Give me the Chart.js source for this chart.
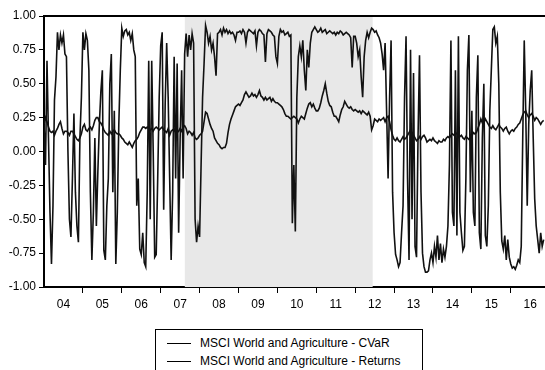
<!DOCTYPE html>
<html>
<head>
<meta charset="utf-8">
<script src="https://cdn.jsdelivr.net/npm/chart.js@4"></script>
<style>
  body { margin: 0; background: #fff; font-family: "Liberation Sans", Arial, sans-serif; }
  #wrap { position: relative; width: 545px; height: 370px; overflow: hidden; }
  #legend {
    position: absolute; left: 155px; top: 329px; width: 268px; height: 44px;
    border: 1px solid #000; box-sizing: border-box; font-size: 12px; color: #000;
  }
  .row { position: absolute; left: 11px; height: 14px; line-height: 14px; white-space: nowrap; }
  .row i { display: inline-block; width: 24px; height: 0; border-top: 1px solid #000; vertical-align: middle; margin-right: 9px; }
</style>
</head>
<body>
<div id="wrap">
  <canvas id="chart" width="545" height="320"></canvas>
  <div id="legend">
    <div class="row" style="top:6px"><i></i>MSCI World and Agriculture - CVaR</div>
    <div class="row" style="top:24px"><i></i>MSCI World and Agriculture - Returns</div>
  </div>
</div>
<script>
// biweekly observations, 26 per year, starting Jan 2004
const startYear = 2004;
const perYear = 26;
const yearLabels = ['04', '05', '06', '07', '08', '09', '10', '11', '12', '13', '14', '15', '16'];
const yTicks = [-1, -0.75, -0.5, -0.25, 0, 0.25, 0.5, 0.75, 1];
const shadeFrom = 2007.62;
const shadeTo = 2012.45;

const cvarValues = [
  // 2004
  0.20, -0.10, 0.67, 0.10, -0.45, -0.83, -0.40, 0.38, 0.55, 0.88, 0.75, 0.86, 0.80, 0.86, 0.72, 0.70, 0.00, -0.50, -0.63, -0.20, 0.28, -0.30, -0.55, -0.67, 0.10, 0.40,
  // 2005
  0.88, 0.75, 0.87, 0.82, 0.60, -0.30, -0.80, -0.45, 0.10, -0.55, -0.15, 0.20, 0.44, 0.60, -0.73, -0.80, -0.40, -0.20, 0.50, 0.72, -0.30, 0.30, -0.83, -0.45, 0.20, 0.60,
  // 2006
  0.91, 0.85, 0.89, 0.90, 0.86, 0.88, 0.82, 0.87, 0.75, 0.70, -0.40, -0.20, -0.72, -0.76, -0.60, -0.82, -0.85, -0.30, 0.67, -0.50, 0.67, 0.00, -0.78, -0.76, -0.20, 0.40,
  // 2007
  0.78, 0.88, -0.43, 0.35, 0.80, 0.40, -0.20, -0.80, -0.30, 0.70, -0.20, 0.65, -0.60, 0.10, 0.60, -0.20, 0.72, 0.87, 0.70, 0.86, 0.75, 0.87, 0.80, -0.50, -0.67, -0.55,
  // 2008
  -0.63, -0.10, 0.40, 0.65, 0.93, 0.88, 0.80, 0.85, 0.75, 0.80, 0.70, 0.56, 0.87, 0.88, 0.90, 0.86, 0.91, 0.88, 0.90, 0.87, 0.89, 0.87, 0.88, 0.86, 0.82, 0.88,
  // 2009
  0.88, 0.89, 0.87, 0.90, 0.88, 0.80, 0.88, 0.90, 0.89, 0.88, 0.87, 0.89, 0.78, 0.88, 0.90, 0.89, 0.87, 0.86, 0.66, 0.87, 0.90, 0.89, 0.88, 0.86, 0.85, 0.70,
  // 2010
  0.65, 0.85, 0.90, 0.88, 0.89, 0.86, 0.87, 0.88, 0.85, 0.86, -0.53, -0.10, -0.59, 0.40, 0.70, 0.78, 0.70, 0.82, 0.60, 0.45, 0.75, 0.62, 0.80, 0.88, 0.90, 0.92,
  // 2011
  0.90, 0.88, 0.89, 0.91, 0.88, 0.89, 0.90, 0.87, 0.88, 0.89, 0.88, 0.87, 0.88, 0.86, 0.88, 0.87, 0.89, 0.88, 0.86, 0.87, 0.88, 0.87, 0.86, 0.84, 0.62, 0.85,
  // 2012
  0.85, 0.80, 0.70, 0.75, 0.55, 0.40, 0.70, 0.82, 0.88, 0.84, 0.88, 0.91, 0.90, 0.88, 0.89, 0.86, 0.84, 0.80, 0.72, 0.60, 0.80, 0.30, -0.20, 0.40, 0.82, -0.30,
  // 2013
  -0.60, -0.76, -0.80, -0.85, -0.82, -0.60, -0.40, 0.40, 0.85, -0.20, -0.80, 0.75, -0.50, 0.58, -0.70, -0.78, 0.10, 0.71, -0.30, -0.75, -0.85, -0.89, -0.89, -0.88, -0.80, -0.75,
  // 2014
  -0.82, -0.70, -0.78, -0.62, -0.80, -0.68, -0.82, -0.72, -0.78, -0.70, -0.55, -0.10, 0.82, -0.45, -0.55, 0.60, -0.62, 0.85, -0.45, -0.60, -0.73, -0.70, -0.20, 0.60, 0.86, -0.30,
  // 2015
  0.30, -0.45, -0.55, 0.40, 0.71, -0.60, -0.72, 0.10, 0.50, -0.62, -0.70, -0.40, 0.30, 0.60, 0.90, 0.92, 0.80, 0.85, 0.50, -0.30, -0.66, -0.72, -0.62, -0.80, -0.65, -0.78,
  // 2016
  -0.83, -0.86, -0.85, -0.87, -0.84, -0.80, -0.82, -0.70, 0.10, 0.82, 0.30, -0.40, 0.20, 0.45, 0.60, 0.10, -0.35, -0.55, -0.65, -0.75, -0.60, -0.70, -0.65
];

const returnValues = [
  // 2004
  0.20, 0.25, 0.22, 0.18, 0.15, 0.14, 0.15, 0.12, 0.15, 0.17, 0.20, 0.22, 0.17, 0.13, 0.15, 0.15, 0.14, 0.12, 0.15, 0.15, 0.13, 0.11, 0.09, 0.08, 0.10, 0.13,
  // 2005
  0.18, 0.20, 0.16, 0.15, 0.17, 0.18, 0.16, 0.19, 0.23, 0.25, 0.25, 0.22, 0.21, 0.19, 0.16, 0.14, 0.13, 0.12, 0.15, 0.13, 0.15, 0.16, 0.14, 0.13, 0.13, 0.12,
  // 2006
  0.10, 0.09, 0.07, 0.06, 0.05, 0.07, 0.05, 0.03, 0.06, 0.08, 0.09, 0.11, 0.14, 0.16, 0.18, 0.18, 0.17, 0.18, 0.17, 0.16, 0.17, 0.15, 0.17, 0.18, 0.17, 0.16,
  // 2007
  0.17, 0.18, 0.16, 0.15, 0.14, 0.17, 0.12, 0.15, 0.16, 0.15, 0.18, 0.14, 0.15, 0.17, 0.15, 0.18, 0.19, 0.17, 0.13, 0.15, 0.14, 0.12, 0.14, 0.10, 0.09, 0.10,
  // 2008
  0.12, 0.13, 0.15, 0.22, 0.29, 0.28, 0.24, 0.20, 0.17, 0.15, 0.10, 0.08, 0.06, 0.05, 0.03, 0.02, 0.03, 0.03, 0.06, 0.14, 0.20, 0.24, 0.27, 0.30, 0.33, 0.34,
  // 2009
  0.35, 0.34, 0.36, 0.38, 0.42, 0.44, 0.42, 0.40, 0.41, 0.43, 0.41, 0.42, 0.40, 0.42, 0.45, 0.41, 0.40, 0.38, 0.40, 0.38, 0.39, 0.40, 0.37, 0.39, 0.37, 0.36,
  // 2010
  0.36, 0.35, 0.34, 0.33, 0.31, 0.28, 0.26, 0.26, 0.25, 0.24, 0.25, 0.26, 0.25, 0.24, 0.21, 0.24, 0.26, 0.25, 0.24, 0.28, 0.32, 0.35, 0.36, 0.33, 0.35, 0.32,
  // 2011
  0.30, 0.30, 0.32, 0.36, 0.41, 0.45, 0.50, 0.43, 0.37, 0.34, 0.33, 0.29, 0.26, 0.26, 0.24, 0.22, 0.27, 0.31, 0.33, 0.37, 0.35, 0.33, 0.32, 0.33, 0.31, 0.30,
  // 2012
  0.31, 0.30, 0.29, 0.30, 0.28, 0.30, 0.29, 0.28, 0.27, 0.29, 0.26, 0.16, 0.19, 0.24, 0.23, 0.22, 0.24, 0.23, 0.24, 0.25, 0.22, 0.25, 0.26, 0.22, 0.16, 0.12,
  // 2013
  0.09, 0.08, 0.10, 0.08, 0.07, 0.09, 0.11, 0.09, 0.10, 0.12, 0.14, 0.16, 0.14, 0.12, 0.10, 0.08, 0.09, 0.11, 0.09, 0.11, 0.12, 0.10, 0.07, 0.08, 0.09, 0.08,
  // 2014
  0.10, 0.08, 0.07, 0.06, 0.08, 0.07, 0.07, 0.09, 0.08, 0.10, 0.11, 0.10, 0.12, 0.13, 0.12, 0.14, 0.13, 0.12, 0.11, 0.12, 0.10, 0.09, 0.11, 0.10, 0.09, 0.10,
  // 2015
  0.11, 0.14, 0.13, 0.14, 0.17, 0.20, 0.24, 0.21, 0.21, 0.24, 0.22, 0.20, 0.18, 0.17, 0.19, 0.17, 0.16, 0.18, 0.20, 0.18, 0.17, 0.15, 0.17, 0.18, 0.15, 0.13,
  // 2016
  0.15, 0.16, 0.15, 0.17, 0.18, 0.20, 0.21, 0.24, 0.27, 0.29, 0.30, 0.27, 0.25, 0.27, 0.28, 0.26, 0.23, 0.25, 0.24, 0.22, 0.20, 0.22, 0.23
];

const toPoints = (vals) => vals.map((v, i) => ({ x: startYear + i / perYear, y: v }));
const xMax = 2016.88;

const shade = {
  id: 'shade',
  beforeDatasetsDraw(chart) {
    const { ctx, chartArea, scales } = chart;
    const x0 = scales.x.getPixelForValue(shadeFrom);
    const x1 = scales.x.getPixelForValue(shadeTo);
    ctx.save();
    ctx.fillStyle = '#e8e8e8';
    ctx.fillRect(x0, chartArea.top, x1 - x0, chartArea.bottom - chartArea.top);
    ctx.restore();
  },
  afterDraw(chart) {
    // top frame line
    const { ctx, chartArea } = chart;
    ctx.save();
    ctx.strokeStyle = '#000';
    ctx.lineWidth = 2;
    ctx.beginPath();
    ctx.moveTo(chartArea.left - 1, chartArea.top);
    ctx.lineTo(chartArea.right, chartArea.top);
    ctx.stroke();
    ctx.restore();
  }
};

const font = { family: '"Liberation Sans", Arial, sans-serif', size: 12 };

new Chart(document.getElementById('chart'), {
  type: 'line',
  data: {
    datasets: [
      { label: 'MSCI World and Agriculture - CVaR', data: toPoints(cvarValues), borderColor: '#111', borderWidth: 1.6 },
      { label: 'MSCI World and Agriculture - Returns', data: toPoints(returnValues), borderColor: '#111', borderWidth: 1.6 }
    ]
  },
  options: {
    responsive: false,
    animation: false,
    layout: { padding: { top: 16, right: 0, left: 0, bottom: 0 } },
    elements: { point: { radius: 0 }, line: { tension: 0 } },
    plugins: { legend: { display: false }, tooltip: { enabled: false } },
    scales: {
      x: {
        type: 'linear',
        min: startYear,
        max: xMax,
        afterBuildTicks: (s) => {
          const t = [];
          yearLabels.forEach((lab, i) => {
            t.push({ value: startYear + i + 0.5 });
            if (i > 0) t.push({ value: startYear + i });
          });
          s.ticks = t.sort((a, b) => a.value - b.value);
        },
        afterFit: (s) => { s.height = 33; },
        grid: {
          drawOnChartArea: false,
          tickLength: 6,
          tickWidth: 1,
          tickColor: (c) => (c.tick && c.tick.value % 1 === 0) ? '#000' : 'rgba(0,0,0,0)'
        },
        border: { display: true, color: '#000', width: 2 },
        ticks: {
          autoSkip: false,
          maxRotation: 0,
          color: '#000',
          font: font,
          padding: 4,
          callback: (v) => (v % 1 === 0.5) ? yearLabels[Math.floor(v) - startYear] : ''
        }
      },
      y: {
        min: -1,
        max: 1,
        afterBuildTicks: (s) => { s.ticks = yTicks.map((v) => ({ value: v })); },
        afterFit: (s) => { s.width = 44; },
        grid: { drawOnChartArea: false, tickLength: 5, tickWidth: 1, tickColor: '#000' },
        border: { display: true, color: '#000', width: 2 },
        ticks: { color: '#000', font: font, padding: 3, callback: (v) => v.toFixed(2) }
      }
    }
  },
  plugins: [shade]
});
</script>
</body>
</html>
